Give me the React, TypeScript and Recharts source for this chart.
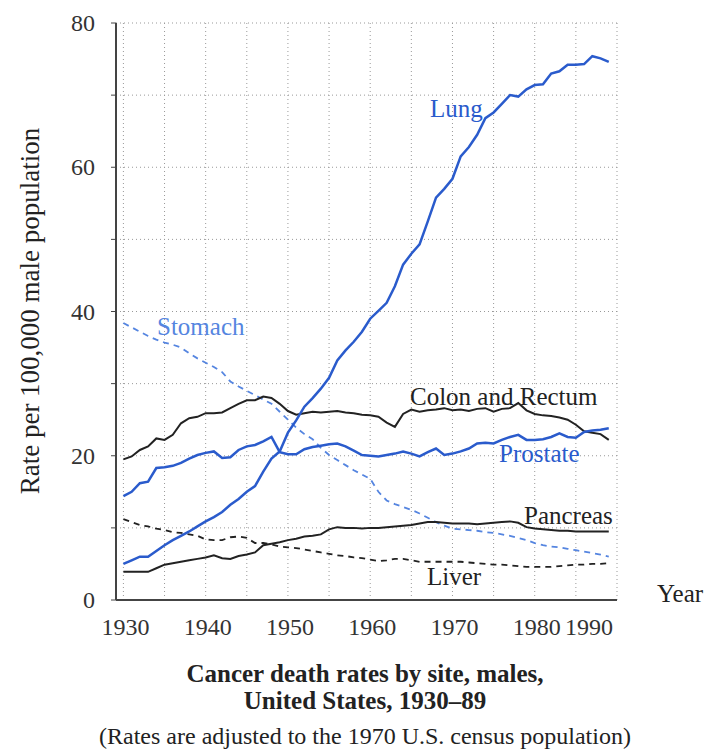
import React from 'react';
import { LineChart, Line, XAxis, YAxis, CartesianGrid } from 'recharts';

const years = Array.from({ length: 60 }, (_, i) => 1930 + i);

const lung = [
  5.0, 5.5, 6.0, 6.0, 6.8, 7.6, 8.3, 8.9, 9.5, 10.2,
  10.9, 11.5, 12.2, 13.2, 14.0, 15.0, 15.8, 17.8, 19.6, 20.6,
  23.2, 24.9, 26.8, 28.0, 29.3, 30.8, 33.2, 34.6, 35.8, 37.2,
  39.0, 40.1, 41.2, 43.5, 46.5, 48.0, 49.3, 52.5, 55.8, 57.0,
  58.4, 61.5, 62.8, 64.5, 66.8, 67.6, 68.8, 70.0, 69.8, 70.8,
  71.4, 71.5, 73.0, 73.3, 74.2, 74.2, 74.3, 75.4, 75.1, 74.6,
];
const stomach = [
  38.4, 37.8, 37.2, 36.6, 36.1, 35.7, 35.4, 35.0, 34.2, 33.5,
  32.9, 32.3, 31.6, 30.3, 29.6, 29.0, 28.4, 27.8, 27.2, 26.1,
  25.0, 23.9, 23.0, 22.3, 21.1, 20.1, 19.4, 18.7, 18.0, 17.4,
  16.8, 15.0, 13.8, 13.3, 12.9, 12.5, 12.0, 11.4, 10.8, 10.3,
  9.9, 9.8, 9.7, 9.6, 9.4, 9.3, 9.1, 8.9, 8.6, 8.3,
  7.9, 7.6, 7.4, 7.3, 7.1, 6.9, 6.7, 6.5, 6.3, 6.0,
];
const colon = [
  19.5, 19.9, 20.8, 21.3, 22.4, 22.2, 22.9, 24.5, 25.2, 25.4,
  25.9, 25.9, 26.0, 26.6, 27.2, 27.7, 27.7, 28.2, 28.0, 27.2,
  26.2, 25.7, 25.9, 26.1, 26.0, 26.1, 26.2, 26.0, 25.9, 25.7,
  25.6, 25.4, 24.6, 24.0, 25.8, 26.4, 26.1, 26.3, 26.4, 26.6,
  26.3, 26.4, 26.2, 26.5, 26.6, 26.1, 26.5, 26.6, 27.3, 26.3,
  25.8, 25.6, 25.5, 25.3, 25.0, 24.3, 23.4, 23.2, 23.0, 22.2,
];
const prostate = [
  14.4, 15.0, 16.2, 16.4, 18.3, 18.4, 18.6, 19.0, 19.6, 20.1,
  20.4, 20.6, 19.7, 19.8, 20.8, 21.3, 21.5, 22.0, 22.6, 20.5,
  20.2, 20.2, 20.9, 21.2, 21.4, 21.6, 21.7, 21.3, 20.7, 20.1,
  20.0, 19.9, 20.1, 20.3, 20.6, 20.3, 19.9, 20.5, 21.0, 20.1,
  20.3, 20.6, 21.0, 21.7, 21.8, 21.7, 22.2, 22.6, 22.9, 22.2,
  22.2, 22.3, 22.6, 23.1, 22.6, 22.5, 23.3, 23.5, 23.6, 23.8,
];
const pancreas = [
  3.9, 3.9, 3.9, 3.9, 4.4, 4.9, 5.1, 5.3, 5.5, 5.7,
  5.9, 6.2, 5.8, 5.7, 6.1, 6.3, 6.6, 7.6, 7.8, 8.0,
  8.3, 8.5, 8.8, 8.9, 9.1, 9.8, 10.1, 10.0, 10.0, 9.9,
  10.0, 10.0, 10.1, 10.2, 10.3, 10.4, 10.6, 10.8, 10.8, 10.7,
  10.6, 10.6, 10.6, 10.5, 10.6, 10.7, 10.8, 10.9, 10.7, 10.1,
  9.9, 9.8, 9.7, 9.6, 9.6, 9.5, 9.5, 9.5, 9.5, 9.5,
];
const liver = [
  11.2, 10.8, 10.4, 10.2, 9.9, 9.7, 9.4, 9.3, 9.1, 8.9,
  8.4, 8.3, 8.3, 8.7, 8.8, 8.6, 7.9, 7.9, 7.7, 7.4,
  7.3, 7.2, 7.0, 6.8, 6.6, 6.4, 6.2, 6.1, 5.9, 5.8,
  5.6, 5.4, 5.5, 5.7, 5.7, 5.5, 5.3, 5.3, 5.3, 5.3,
  5.3, 5.3, 5.2, 5.1, 5.0, 4.9, 4.9, 4.8, 4.7, 4.6,
  4.6, 4.6, 4.6, 4.7, 4.8, 4.9, 4.9, 5.0, 5.0, 5.1,
];

const xTicks = [1930, 1935, 1940, 1945, 1950, 1955, 1960, 1965, 1970, 1975, 1980, 1985, 1990];
const yTicks = [0, 10, 20, 30, 40, 50, 60, 70, 80];

const data = years.map((year, i) => ({
  year,
  lung: lung[i],
  stomach: stomach[i],
  colon: colon[i],
  prostate: prostate[i],
  pancreas: pancreas[i],
  liver: liver[i],
}));

const FONT = '"Liberation Serif", "DejaVu Serif", serif';
const BLUE = '#2a5bcc';
const LIGHT_BLUE = '#5585e0';
const BLACK = '#222';

const XTick = (props: any) => {
  const { x, y, payload } = props;
  if (payload.value % 10 !== 0) return null;
  // the 1990 label sits left of its gridline in the original
  const dx = payload.value === 1990 ? -28 : 2;
  return (
    <text x={x + dx} y={y + 27} textAnchor="middle" fontFamily={FONT} fontSize={24} fill="#333">
      {payload.value}
    </text>
  );
};

const YTick = (props: any) => {
  const { x, y, payload } = props;
  if (payload.value % 20 !== 0) return null;
  return (
    <text x={x - 14} y={y + 8} textAnchor="end" fontFamily={FONT} fontSize={24} fill="#333">
      {payload.value}
    </text>
  );
};

const label = (text: string, left: number, top: number, color: string) => (
  <div
    style={{
      position: 'absolute',
      left,
      top,
      fontFamily: FONT,
      fontSize: 25,
      color,
      whiteSpace: 'nowrap',
      lineHeight: 1,
    }}
  >
    {text}
  </div>
);

export default function App() {
  return (
    <div style={{ position: 'absolute', left: 0, top: 0, width: 718, height: 751, background: '#fff' }}>
      <LineChart width={718} height={640} data={data} margin={{ top: 23, right: 101, bottom: 10, left: 56 }}>
        <CartesianGrid stroke="#999" strokeDasharray="1 3" />
        <XAxis
          dataKey="year"
          type="number"
          domain={[1929.1, 1990]}
          ticks={xTicks}
          tick={<XTick />}
          height={30}
          axisLine={{ stroke: '#444', strokeWidth: 2 }}
          tickLine={false}
          allowDataOverflow
        />
        <YAxis
          type="number"
          domain={[0, 80]}
          ticks={yTicks}
          tick={<YTick />}
          width={60}
          axisLine={{ stroke: '#444', strokeWidth: 2 }}
          tickLine={{ stroke: '#444' }}
          tickSize={5}
        />
        <Line dataKey="stomach" stroke={LIGHT_BLUE} strokeWidth={1.8} strokeDasharray="6 5" dot={false} isAnimationActive={false} />
        <Line dataKey="liver" stroke={BLACK} strokeWidth={1.8} strokeDasharray="6 5" dot={false} isAnimationActive={false} />
        <Line dataKey="pancreas" stroke={BLACK} strokeWidth={2} dot={false} isAnimationActive={false} />
        <Line dataKey="colon" stroke={BLACK} strokeWidth={2} dot={false} isAnimationActive={false} />
        <Line dataKey="prostate" stroke={BLUE} strokeWidth={2.5} dot={false} isAnimationActive={false} />
        <Line dataKey="lung" stroke={BLUE} strokeWidth={2.5} dot={false} isAnimationActive={false} />
      </LineChart>

      {label('Lung', 430, 96, BLUE)}
      {label('Stomach', 157, 314, LIGHT_BLUE)}
      {label('Colon and Rectum', 410, 384, BLACK)}
      {label('Prostate', 499, 441, BLUE)}
      {label('Pancreas', 524, 503, BLACK)}
      {label('Liver', 427, 564, BLACK)}
      {label('Year', 657, 581, BLACK)}

      <div
        style={{
          position: 'absolute',
          left: 30,
          top: 311,
          transform: 'translate(-50%, -50%) rotate(-90deg)',
          fontFamily: FONT,
          fontSize: 27,
          color: BLACK,
          whiteSpace: 'nowrap',
          lineHeight: 1,
        }}
      >
        Rate per 100,000 male population
      </div>

      <div
        style={{
          position: 'absolute',
          left: 0,
          top: 660,
          width: 730,
          textAlign: 'center',
          fontFamily: FONT,
          color: BLACK,
          lineHeight: '27px',
        }}
      >
        <div style={{ fontWeight: 'bold', fontSize: 25 }}>Cancer death rates by site, males,</div>
        <div style={{ fontWeight: 'bold', fontSize: 25 }}>United States, 1930–89</div>
        <div style={{ fontSize: 24, marginTop: 9 }}>(Rates are adjusted to the 1970 U.S. census population)</div>
      </div>
    </div>
  );
}
